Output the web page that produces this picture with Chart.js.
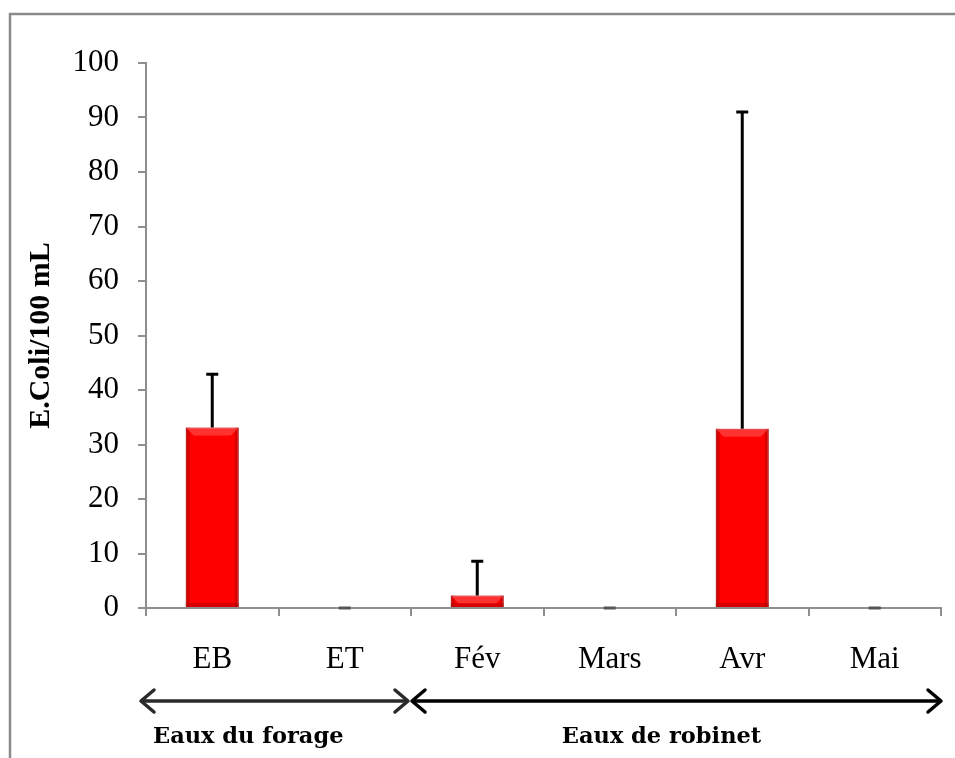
<!DOCTYPE html>
<html>
<head>
<meta charset="utf-8">
<script src="https://cdn.jsdelivr.net/npm/chart.js@4.4.1/dist/chart.umd.min.js"></script>
<style>
  html, body { margin: 0; padding: 0; background: #fff; }
  #wrap { width: 955px; height: 758px; position: relative; }
</style>
</head>
<body>
<div id="wrap"><canvas id="chart"></canvas></div>
<script>
// data
const categories = ['EB', 'ET', 'Fév', 'Mars', 'Avr', 'Mai'];
const means = [33.1, 0, 2.3, 0, 32.9, 0];
const errors = [9.8, 0, 6.3, 0, 58.1, 0];
const yTicks = [0, 10, 20, 30, 40, 50, 60, 70, 80, 90, 100];
const groupLabels = ['Eaux du forage', 'Eaux de robinet'];
const groupFirst = [0, 2];
const groupLast = [1, 5];

const serif = "'Liberation Serif', 'Times New Roman', serif";

// frame round the figure (top and left edges only)
const framePlugin = {
    id: 'frame',
    beforeDraw(chart) {
        const ctx = chart.ctx;
        ctx.save();
        ctx.strokeStyle = '#8a8a8a';
        ctx.lineWidth = 2.5;
        ctx.beginPath();
        ctx.moveTo(955, 14);
        ctx.lineTo(10, 14);
        ctx.lineTo(10, 758);
        ctx.stroke();
        ctx.restore();
    }
};

// bevel shading on the bars, then the error bars (upper side only)
const errorBars = {
    id: 'errorBars',
    afterDatasetsDraw(chart) {
        const ctx = chart.ctx;
        const y = chart.scales.y;
        const meta = chart.getDatasetMeta(0);
        ctx.save();
        meta.data.forEach((bar) => {
            const h = bar.base - bar.y;
            if (h < 1) return;
            const l = bar.x - bar.width / 2, r = bar.x + bar.width / 2;
            const b = Math.min(4, h / 3);
            ctx.fillStyle = 'rgba(150,0,0,0.35)';
            ctx.fillRect(l, bar.y, b, h);
            ctx.fillRect(r - b, bar.y, b, h);
            ctx.fillRect(l, bar.base - b, bar.width, b);
            ctx.fillStyle = 'rgba(255,110,110,0.45)';
            ctx.beginPath();
            ctx.moveTo(l, bar.y);
            ctx.lineTo(r, bar.y);
            ctx.lineTo(r - b * 2, bar.y + b * 2);
            ctx.lineTo(l + b * 2, bar.y + b * 2);
            ctx.closePath();
            ctx.fill();
        });
        ctx.strokeStyle = '#000';
        ctx.lineWidth = 3;
        meta.data.forEach((bar, i) => {
            const top = y.getPixelForValue(means[i] + errors[i]);
            const base = y.getPixelForValue(means[i]);
            ctx.strokeStyle = errors[i] === 0 ? '#555' : '#000';
            ctx.beginPath();
            ctx.moveTo(bar.x, base);
            ctx.lineTo(bar.x, top);
            ctx.moveTo(bar.x - 6, top);
            ctx.lineTo(bar.x + 6, top);
            ctx.stroke();
        });
        ctx.restore();
    }
};

function arrowHead(ctx, x, y, dir) {
    ctx.beginPath();
    ctx.moveTo(x - dir * 13, y - 11);
    ctx.lineTo(x, y);
    ctx.lineTo(x - dir * 13, y + 11);
    ctx.stroke();
}

// group arrows and labels under the x axis
const groups = {
    id: 'groups',
    afterDraw(chart) {
        const ctx = chart.ctx;
        const x = chart.scales.x;
        const half = (x.getPixelForValue(1) - x.getPixelForValue(0)) / 2;
        const ay = 701;
        ctx.save();
        ctx.lineCap = 'round';
        ctx.lineJoin = 'round';
        groupLabels.forEach((label, g) => {
            let x1 = x.getPixelForValue(groupFirst[g]) - half;
            let x2 = x.getPixelForValue(groupLast[g]) + half;
            if (g === 0) { x1 -= 5; x2 -= 3; } else { x1 += 1; }
            ctx.strokeStyle = g === 0 ? '#2a2a2a' : '#000';
            ctx.lineWidth = 3.5;
            ctx.beginPath();
            ctx.moveTo(x1 + 2, ay);
            ctx.lineTo(x2 - 2, ay);
            ctx.stroke();
            arrowHead(ctx, x1, ay, -1);
            arrowHead(ctx, x2, ay, 1);
            ctx.fillStyle = '#000';
            ctx.font = "bold 22.5px 'DejaVu Serif', serif";
            ctx.textAlign = 'center';
            ctx.textBaseline = 'middle';
            const cx = g === 0 ? x.getPixelForValue(0) + 36 : (x1 + x2) / 2 - 15;
            ctx.fillText(label, cx, 737);
        });
        ctx.restore();
    }
};

new Chart(document.getElementById('chart'), {
    type: 'bar',
    data: {
        labels: categories,
        datasets: [{
            data: means,
            backgroundColor: '#ff0000',
            borderColor: '#b80000',
            borderWidth: 1,
            barPercentage: 0.4,
            categoryPercentage: 1
        }]
    },
    options: {
        responsive: true,
        maintainAspectRatio: false,
        animation: false,
        events: [],
        layout: { padding: { left: 0, right: 14, top: 63, bottom: 86 } },
        plugins: {
            legend: { display: false },
            tooltip: { enabled: false }
        },
        scales: {
            x: {
                afterFit(scale) { scale.height = 64; },
                border: { color: '#8e8e8e', width: 2 },
                grid: { drawOnChartArea: false, color: '#8e8e8e', lineWidth: 2, tickLength: 8, offset: true },
                ticks: { color: '#000', font: { family: serif, size: 31 }, padding: 25 }
            },
            y: {
                min: 0,
                max: 100,
                afterBuildTicks(scale) { scale.ticks = yTicks.map(v => ({ value: v })); },
                afterFit(scale) { scale.width = 146; },
                border: { color: '#8e8e8e', width: 2 },
                grid: { drawOnChartArea: false, color: '#8e8e8e', lineWidth: 2, tickLength: 8 },
                ticks: { color: '#000', font: { family: serif, size: 31 }, padding: 19 },
                title: {
                    display: true,
                    text: 'E.Coli/100 mL',
                    color: '#000',
                    font: { family: serif, size: 30, weight: 'bold' },
                    padding: { top: 23, bottom: 0 }
                }
            }
        }
    },
    plugins: [framePlugin, errorBars, groups]
});
</script>
</body>
</html>
